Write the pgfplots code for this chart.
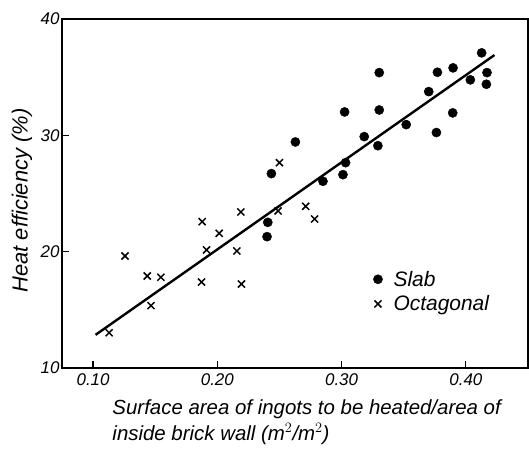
\documentclass[border=0pt]{standalone}
\usepackage{pgfplots}
\pgfplotsset{compat=1.18}
\usepackage{fontspec}
\setmainfont{Liberation Sans}
\begin{document}
\begin{tikzpicture}[x=1bp,y=1bp]
\useasboundingbox (-62bp,-91bp) rectangle (467bp,368bp);
\begin{axis}[
  at={(0,0)}, anchor=south west,
  width=466bp, height=349bp, scale only axis,
  xmin=0.075, xmax=0.45, ymin=10, ymax=40,
  xtick={0.1,0.2,0.3,0.4}, xticklabels={0.10,0.20,0.30,0.40},
  ytick={10,20,30,40},
  tick align=inside, tick pos=left,
  major tick length=7bp,
  tick style={line width=1.2pt, black},
  axis line style={line width=1.4pt},
  ticklabel style={font=\fontsize{17}{19}\selectfont\itshape},
  /pgf/number format/assume math mode=true,
  xticklabel style={yshift=-2bp},
  yticklabel style={xshift=1bp},
  ylabel={Heat efficiency (\%)},
  ylabel style={font=\fontsize{22}{24}\selectfont\itshape, at={(axis description cs:0,0.48)}, anchor=center, yshift=40bp},
  xlabel={Surface area of ingots to be heated/area of\\inside brick wall (m$^{2}$/m$^{2}$)},
  xlabel style={font=\fontsize{20.5}{26}\selectfont\itshape, align=left, at={(axis description cs:0.525,0)}, anchor=north, yshift=-28bp},
  legend style={draw=none, fill=none, at={(axis cs:0.323,18.7)}, anchor=north west, font=\fontsize{21}{23}\selectfont\itshape, row sep=4bp, column sep=9bp},
  legend cell align=left,
  clip=false,
]
\addplot[only marks, mark=*, mark size=4.6bp, black] coordinates {
(0.2628,29.43) (0.2435,26.71) (0.2406,22.52) (0.2400,21.29) (0.285,26.05)
(0.3011,26.62) (0.3032,27.65) (0.3024,32.01) (0.3182,29.89) (0.3292,29.11)
(0.3303,32.18) (0.3303,35.39) (0.352,30.92) (0.3701,33.76) (0.3763,30.24)
(0.3771,35.42) (0.3894,31.93) (0.3897,35.80) (0.4036,34.77) (0.4127,37.09)
(0.417,35.39) (0.4165,34.39)
};
\addlegendentry{Slab}
\addplot[only marks, mark=x, mark size=5bp, line width=1.5pt, black] coordinates {
(0.1129,13.03) (0.1257,19.63) (0.1436,17.91) (0.1546,17.80) (0.1466,15.36)
(0.1878,22.58) (0.1873,17.39) (0.1913,20.15) (0.2015,21.58) (0.2189,23.41)
(0.2157,20.06) (0.2194,17.22) (0.250,27.65) (0.2489,23.50) (0.2711,23.90)
(0.2783,22.81)
};
\addlegendentry{Octagonal}
\addplot[black, line width=2.4bp, forget plot] coordinates {(0.102,12.85) (0.423,36.9)};
\end{axis}
\end{tikzpicture}
\end{document}
